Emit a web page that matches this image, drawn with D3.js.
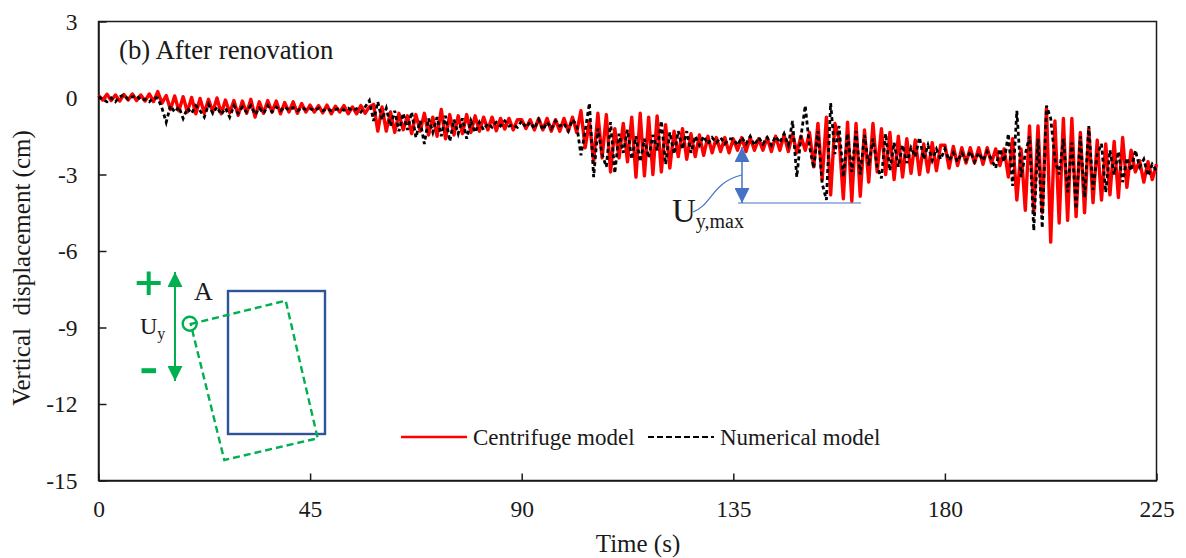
<!DOCTYPE html>
<html>
<head>
<meta charset="utf-8">
<title>Vertical displacement after renovation</title>
<script src="https://cdn.jsdelivr.net/npm/d3@7"></script>
<style>
    html, body { margin: 0; padding: 0; background: #fff; }
    svg { display: block; }
    text { font-family: "Liberation Serif", serif; fill: #1a1a1a; }
</style>
</head>
<body>
<svg id="chart" width="1186" height="558"></svg>
<script>
const sampleStep = 0.9;
const xTicks = [0, 45, 90, 135, 180, 225];
const yTicks = [3, 0, -3, -6, -9, -12, -15];

const centrifuge0to45 = [
    0.10, -0.08, 0.15, -0.10, 0.12, -0.12, 0.14, -0.08, 0.16, -0.10,
    0.12, -0.12, 0.16, -0.14, 0.25, -0.20, 0.10, -0.45, 0.08, -0.50,
    0.05, -0.55, 0.02, -0.62, -0.02, -0.60, -0.05, -0.55, 0.00, -0.62,
    -0.08, -0.58, -0.10, -0.68, -0.12, -0.60, -0.05, -0.75, -0.15, -0.60,
    -0.10, -0.55, -0.12, -0.62, -0.18, -0.55, -0.15, -0.60, -0.22, -0.55
];
const centrifuge45to90 = [
    -0.28, -0.55, -0.30, -0.58, -0.28, -0.62, -0.32, -0.55, -0.30, -0.62,
    -0.35, -0.62, -0.30, -0.60, -0.35, -0.25, -1.30, -0.35, -1.30, -0.55,
    -1.35, -0.60, -1.25, -0.70, -1.40, -0.65, -1.30, -0.60, -1.45, -0.75,
    -1.50, -0.45, -1.60, -0.65, -1.45, -0.70, -1.40, -0.65, -1.35, -0.70,
    -1.30, -0.75, -1.25, -0.75, -1.28, -0.80, -1.22, -0.80, -1.25, -0.85
];
const centrifuge90to135 = [
    -0.85, -1.20, -0.85, -1.25, -0.80, -1.25, -0.80, -1.30, -0.85, -1.30,
    -0.80, -1.30, -0.75, -1.35, -0.50, -1.95, -0.90, -2.50, -0.60, -2.35,
    -0.65, -2.90, -1.20, -2.35, -1.00, -2.50, -0.75, -3.10, -0.60, -3.05,
    -0.75, -3.00, -0.70, -2.90, -1.05, -2.75, -1.30, -2.30, -1.20, -2.40,
    -1.40, -2.30, -1.45, -2.25, -1.50, -2.15, -1.55, -2.10, -1.55, -2.15
];
const centrifuge135to180 = [
    -1.60, -2.05, -1.55, -2.10, -1.55, -2.05, -1.60, -2.05, -1.55, -2.10,
    -1.50, -2.05, -1.45, -2.10, -1.40, -2.15, -1.50, -2.05, -1.35, -2.70,
    -1.00, -3.20, -0.75, -3.80, -1.00, -1.60, -3.95, -0.95, -4.05, -1.00,
    -3.85, -1.25, -3.30, -1.00, -2.90, -1.20, -3.00, -1.35, -3.20, -1.50,
    -3.10, -1.60, -2.95, -1.65, -3.00, -1.80, -2.90, -1.75, -2.85, -1.85
];
const centrifuge180to225 = [
    -1.85, -2.75, -1.90, -2.65, -1.95, -2.55, -1.95, -2.55, -1.95, -2.60,
    -1.95, -2.55, -2.00, -2.65, -2.00, -3.10, -1.60, -4.00, -2.00, -4.40,
    -1.10, -4.50, -1.10, -4.50, -0.40, -5.65, -0.90, -4.90, -0.80, -4.80,
    -0.80, -4.65, -1.35, -4.50, -1.20, -4.10, -1.65, -4.00, -1.80, -3.80,
    -1.70, -3.90, -1.55, -3.50, -2.05, -2.90, -2.45, -3.30, -2.50, -3.20, -2.60
];

const numerical0to45 = [
    0.05, -0.05, -0.15, 0.00, -0.15, 0.05, 0.12, -0.05, 0.05, 0.10,
    -0.08, -0.05, -0.15, 0.00, 0.00, -0.40, -0.95, -0.30, -0.55, -0.35,
    -0.80, -0.40, -0.60, -0.30, -0.50, -0.75, -0.25, -0.60, -0.35, -0.65,
    -0.40, -0.75, -0.30, -0.60, -0.35, -0.55, -0.30, -0.65, -0.40, -0.60,
    -0.30, -0.55, -0.35, -0.50, -0.35, -0.48, -0.38, -0.50, -0.38, -0.45
];
const numerical45to90 = [
    -0.42, -0.48, -0.40, -0.50, -0.42, -0.50, -0.45, -0.42, -0.48, -0.40,
    -0.50, -0.42, -0.55, -0.35, -0.10, -0.90, -0.15, -0.85, -0.40, -1.10,
    -0.50, -1.30, -0.60, -1.25, -0.55, -1.55, -0.90, -1.80, -0.80, -1.35,
    -0.75, -1.50, -0.70, -1.70, -0.85, -1.40, -0.80, -1.60, -0.90, -1.35,
    -0.95, -1.25, -1.00, -1.15, -0.95, -1.10, -0.90, -1.10, -1.05, -1.15
];
const numerical90to135 = [
    -0.90, -1.15, -0.95, -1.20, -0.85, -1.25, -0.95, -1.20, -0.90, -1.10,
    -1.00, -1.30, -0.85, -1.05, -2.25, -1.30, -0.20, -3.10, -1.20, -2.20,
    -2.70, -0.95, -2.95, -1.40, -2.15, -1.25, -2.40, -1.50, -2.50, -1.60,
    -2.35, -1.45, -2.05, -0.90, -2.60, -1.35, -2.20, -1.30, -2.00, -1.30,
    -2.15, -1.50, -1.85, -1.50, -1.80, -1.55, -1.75, -1.55, -1.80, -1.60
];
const numerical135to180 = [
    -1.60, -1.85, -1.55, -1.80, -1.50, -1.85, -1.55, -1.80, -1.55, -1.85,
    -1.50, -1.75, -1.40, -1.85, -0.90, -3.10, -1.50, -0.30, -1.90, -2.75,
    -1.30, -3.35, -4.00, -0.20, -2.20, -1.10, -3.10, -1.40, -2.90, -1.30,
    -3.00, -1.45, -2.65, -1.60, -2.70, -3.15, -1.40, -2.85, -1.75, -2.70,
    -1.85, -2.55, -1.95, -2.30, -1.55, -2.40, -1.85, -2.45, -2.00, -2.40
];
const numerical180to225 = [
    -2.00, -2.45, -2.15, -2.50, -2.15, -2.45, -2.10, -2.50, -2.15, -2.45,
    -2.10, -2.40, -2.75, -2.00, -2.50, -1.40, -3.45, -0.50, -3.10, -2.20,
    -1.50, -5.20, -1.60, -5.10, -0.30, -0.80, -2.40, -3.00, -1.60, -3.70,
    -1.75, -4.35, -1.50, -3.90, -1.10, -3.60, -2.20, -1.80, -3.70, -2.05,
    -3.00, -2.10, -3.30, -2.35, -2.85, -2.05, -2.70, -2.40, -3.05, -2.60, -2.85
];

const centrifuge = [...centrifuge0to45, ...centrifuge45to90, ...centrifuge90to135, ...centrifuge135to180, ...centrifuge180to225];
const numerical  = [...numerical0to45, ...numerical45to90, ...numerical90to135, ...numerical135to180, ...numerical180to225];

const RED = '#ff0000', BLUE = '#4472c4', NAVY = '#2f5597', GREEN = '#00b050';
const box = { left: 98.5, right: 1156.5, top: 21.5, bottom: 480.5 };

const svg = d3.select('#chart');
const x = d3.scaleLinear().domain([0, 225]).range([box.left, box.right]);
const y = d3.scaleLinear().domain([-15, 3]).range([box.bottom, box.top]);

// frame
svg.append('rect')
    .attr('x', box.left).attr('y', box.top)
    .attr('width', box.right - box.left).attr('height', box.bottom - box.top)
    .attr('fill', 'none').attr('stroke', '#1a1a1a').attr('stroke-width', 1.5);

const gx = svg.append('g').attr('transform', `translate(0,${box.bottom})`)
    .call(d3.axisBottom(x).tickValues(xTicks).tickFormat(String).tickSize(-7).tickSizeOuter(0).tickPadding(20));
const gy = svg.append('g').attr('transform', `translate(${box.left},0)`)
    .call(d3.axisLeft(y).tickValues(yTicks).tickFormat(String).tickSize(-8).tickSizeOuter(0).tickPadding(21));
[gx, gy].forEach(g => {
    g.select('.domain').attr('stroke', '#1a1a1a').attr('stroke-width', 1.5);
    g.selectAll('.tick line').attr('stroke', '#1a1a1a').attr('stroke-width', 1.5);
    g.selectAll('.tick text').attr('font-size', 23.5).style('font-family', '"Liberation Serif", serif');
});

// series
const line = d3.line().x((d, i) => x(i * sampleStep)).y(d => y(d));
svg.append('path').datum(centrifuge)
    .attr('fill', 'none').attr('stroke', RED).attr('stroke-width', 3.4)
    .attr('stroke-linejoin', 'round').attr('d', line);
svg.append('path').datum(numerical)
    .attr('fill', 'none').attr('stroke', '#000').attr('stroke-width', 2.8)
    .attr('stroke-dasharray', '4 3').attr('d', line);

// axis titles and panel label
svg.append('text').attr('x', 638).attr('y', 552).attr('text-anchor', 'middle')
    .attr('font-size', 25).text('Time (s)');
svg.append('text').attr('transform', 'translate(30,268) rotate(-90)').attr('text-anchor', 'middle')
    .attr('font-size', 25).style('white-space', 'pre')
    .text('Vertical  displacement (cm)');
svg.append('text').attr('x', 119).attr('y', 59).attr('font-size', 26.8).text('(b) After renovation');

// legend
svg.append('line').attr('x1', 401).attr('x2', 467).attr('y1', 437).attr('y2', 437)
    .attr('stroke', RED).attr('stroke-width', 2.5);
svg.append('text').attr('x', 473).attr('y', 445).attr('font-size', 23).text('Centrifuge model');
svg.append('line').attr('x1', 648).attr('x2', 714).attr('y1', 437).attr('y2', 437)
    .attr('stroke', '#000').attr('stroke-width', 2).attr('stroke-dasharray', '6 3');
svg.append('text').attr('x', 720).attr('y', 445).attr('font-size', 23).text('Numerical model');

// U_y,max annotation
const defs = svg.append('defs');
[['headBlue', BLUE], ['headGreen', GREEN]].forEach(([id, col]) => {
    defs.append('marker').attr('id', id).attr('viewBox', '0 0 10 10')
        .attr('refX', 10).attr('refY', 5).attr('markerWidth', 15).attr('markerHeight', 15)
        .attr('markerUnits', 'userSpaceOnUse').attr('orient', 'auto-start-reverse')
        .append('path').attr('d', 'M0,0L10,5L0,10Z').attr('fill', col);
});
svg.append('line').attr('x1', 742).attr('x2', 742).attr('y1', 147).attr('y2', 203)
    .attr('stroke', BLUE).attr('stroke-width', 1.5)
    .attr('marker-start', 'url(#headBlue)').attr('marker-end', 'url(#headBlue)');
svg.append('line').attr('x1', 738).attr('x2', 861).attr('y1', 203).attr('y2', 203)
    .attr('stroke', BLUE).attr('stroke-width', 1.2);
svg.append('path').attr('d', 'M742,175C712,182 712,205 693,212')
    .attr('fill', 'none').attr('stroke', BLUE).attr('stroke-width', 1.2);
const uMax = svg.append('text').attr('x', 672).attr('y', 222).attr('font-size', 33);
uMax.append('tspan').text('U');
uMax.append('tspan').attr('dy', 6).attr('font-size', 20).text('y,max');

// rotated wall sketch
svg.append('rect').attr('x', 228).attr('y', 291).attr('width', 97).attr('height', 143)
    .attr('fill', 'none').attr('stroke', NAVY).attr('stroke-width', 2.4);
svg.append('path').attr('d', 'M190.7,324L285.7,300.7L317.7,438.3L224.3,460Z')
    .attr('fill', 'none').attr('stroke', GREEN).attr('stroke-width', 2.4).attr('stroke-dasharray', '7 4');
svg.append('circle').attr('cx', 189.7).attr('cy', 323.7).attr('r', 7)
    .attr('fill', 'none').attr('stroke', GREEN).attr('stroke-width', 2.4);
svg.append('line').attr('x1', 175).attr('x2', 175).attr('y1', 272).attr('y2', 381)
    .attr('stroke', GREEN).attr('stroke-width', 2)
    .attr('marker-start', 'url(#headGreen)').attr('marker-end', 'url(#headGreen)');
svg.append('path').attr('d', 'M136.7,283H160.7M148.7,271.5V295').attr('stroke', GREEN).attr('stroke-width', 4).attr('fill', 'none');
svg.append('path').attr('d', 'M141.5,370.7H156').attr('stroke', GREEN).attr('stroke-width', 5).attr('fill', 'none');
svg.append('text').attr('x', 194).attr('y', 300).attr('font-size', 26).text('A');
const uy = svg.append('text').attr('x', 140).attr('y', 334).attr('font-size', 24);
uy.append('tspan').text('U');
uy.append('tspan').attr('dy', 5).attr('font-size', 16).text('y');
</script>
</body>
</html>
